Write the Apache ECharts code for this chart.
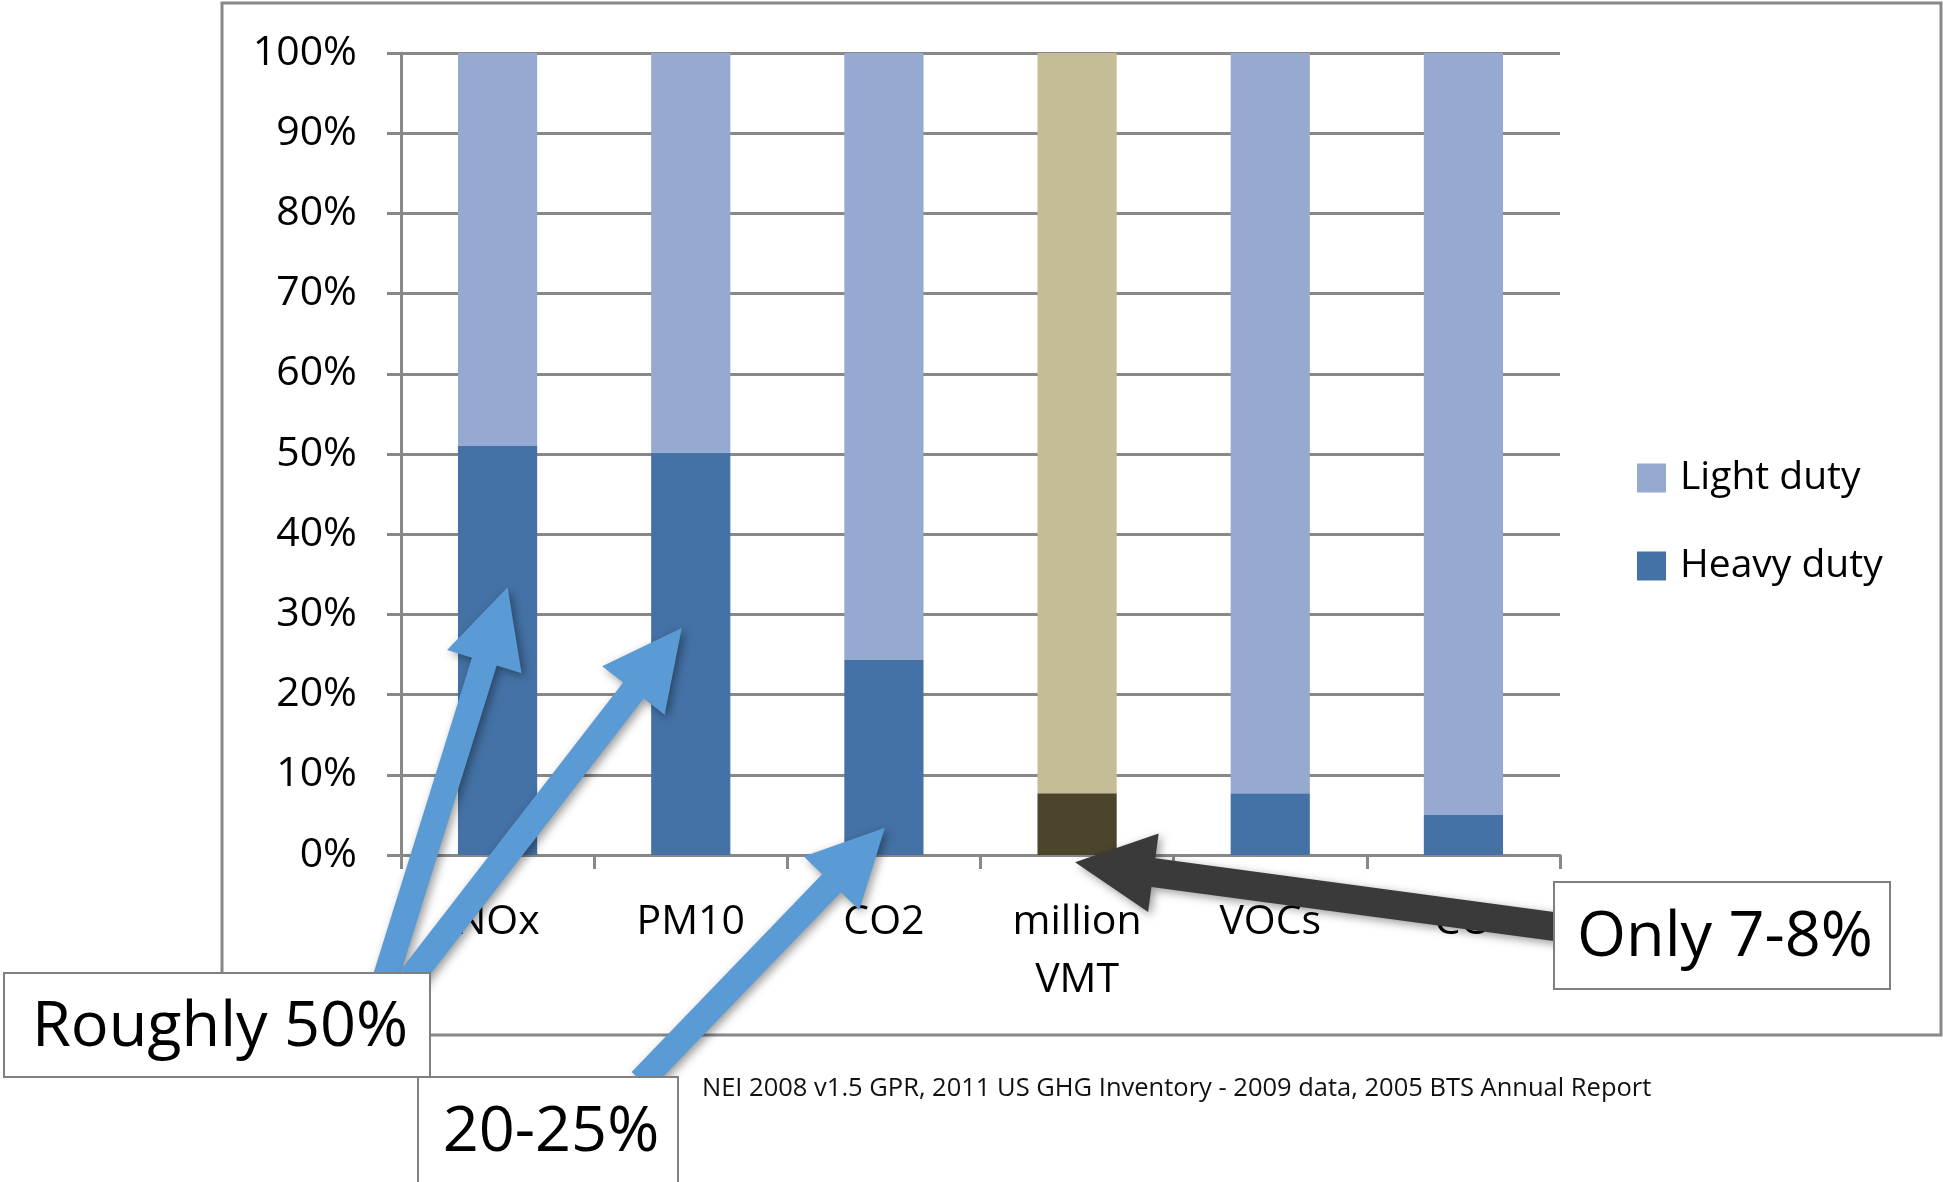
<!DOCTYPE html>
<html>
<head>
<meta charset="utf-8">
<title>Light vs heavy duty share</title>
<script src="https://cdn.jsdelivr.net/npm/echarts@6/dist/echarts.min.js"></script>
<style>
html, body { margin: 0; padding: 0; background: #fff; }
#chart { width: 1943px; height: 1182px; }
</style>
</head>
<body>
<div id="chart"></div>
<script>
// share of each pollutant / of VMT, in percent
const categories = ['NOx', 'PM10', 'CO2', 'million VMT', 'VOCs', 'CO'];
const heavyDuty = [51.0, 50.2, 24.3, 7.7, 7.7, 5.0];
const lightDuty = [49.0, 49.8, 75.7, 92.3, 92.3, 95.0];
const seriesNames = ['Light duty', 'Heavy duty'];

const sourceNote = 'NEI 2008 v1.5 GPR, 2011 US GHG Inventory - 2009 data, 2005 BTS Annual Report';

// callout boxes (pixel boxes) and the arrows pointing into the bars
const callouts = [
  { text: 'Roughly 50%', box: [4, 973, 426, 104] },
  { text: '20-25%', box: [418, 1077, 260, 120], textY: 1130 },
  { text: 'Only 7-8%', box: [1554, 882, 336, 107] }
];
const arrows = [
  { cat: 0, value: 33.4, dx: 10, tail: [385, 980], color: '#5B9BD5', shaft: 26, head: 78 },
  { cat: 1, value: 28.3, dx: -9, tail: [411, 978], color: '#5B9BD5', shaft: 26, head: 79 },
  { cat: 2, value: 3.4, dx: 1, tail: [641, 1081], color: '#5B9BD5', shaft: 26, head: 77 },
  { cat: 3, value: -0.9, dx: -2, tail: [1565, 928], color: '#3A3A3A', shaft: 29, head: 79 }
];

const FONT = '"Open Sans", "Noto Sans", sans-serif';
const GRAY = '#888888';

var chart = echarts.init(document.getElementById('chart'));

var option = {
  animation: false,
  backgroundColor: '#fff',
  grid: { left: 401, top: 53, width: 1159, height: 802, containLabel: false },
  legend: {
    data: seriesNames,
    orient: 'vertical',
    left: 1637,
    top: 458,
    itemWidth: 29,
    itemHeight: 29,
    itemGap: 48,
    icon: 'rect',
    padding: 0,
    textStyle: { color: '#000', fontSize: 39, fontFamily: FONT, lineHeight: 40, padding: [0, 0, 0, 9] }
  },
  xAxis: {
    type: 'category',
    data: categories,
    axisLine: { show: true, lineStyle: { color: GRAY, width: 3 } },
    axisTick: { show: true, length: 14, interval: 0, lineStyle: { color: GRAY, width: 3 } },
    axisLabel: {
      interval: 0,
      margin: 38,
      color: '#000',
      fontSize: 41,
      fontFamily: FONT,
      lineHeight: 58,
      formatter: function (v) { return v.replace(' ', '\n'); }
    }
  },
  yAxis: {
    type: 'value',
    min: 0,
    max: 100,
    interval: 10,
    axisLine: { show: true, lineStyle: { color: GRAY, width: 3 } },
    axisTick: { show: true, length: 14, lineStyle: { color: GRAY, width: 3 } },
    splitLine: { show: true, lineStyle: { color: GRAY, width: 3 } },
    axisLabel: { formatter: '{value}%', margin: 44, color: '#000', fontSize: 41, fontFamily: FONT, padding: [8, 0, 0, 0] }
  },
  series: [
    {
      name: 'Heavy duty',
      type: 'bar',
      stack: 'share',
      barWidth: '41%',
      itemStyle: { color: '#4472A6' },
      data: heavyDuty.map(function (v, i) {
        // the VMT bar is drawn in olive tones
        return i === 3 ? { value: v, itemStyle: { color: '#4A452B' } } : v;
      })
    },
    {
      name: 'Light duty',
      type: 'bar',
      stack: 'share',
      barWidth: '41%',
      itemStyle: { color: '#95A9D1' },
      data: lightDuty.map(function (v, i) {
        return i === 3 ? { value: v, itemStyle: { color: '#C4BD97' } } : v;
      })
    }
  ]
};
chart.setOption(option);

function arrowPoints(t, p, w, hw, hl) {
  var dx = p[0] - t[0], dy = p[1] - t[1];
  var len = Math.sqrt(dx * dx + dy * dy);
  var ux = dx / len, uy = dy / len;
  var nx = -uy, ny = ux;
  var bx = p[0] - ux * hl, by = p[1] - uy * hl;
  return [
    [t[0] + nx * w / 2, t[1] + ny * w / 2],
    [bx + nx * w / 2, by + ny * w / 2],
    [bx + nx * hw / 2, by + ny * hw / 2],
    p,
    [bx - nx * hw / 2, by - ny * hw / 2],
    [bx - nx * w / 2, by - ny * w / 2],
    [t[0] - nx * w / 2, t[1] - ny * w / 2]
  ];
}

var graphics = [];

// outer chart frame
graphics.push({
  type: 'rect', silent: true, z: 1,
  shape: { x: 222, y: 3, width: 1719, height: 1032 },
  style: { fill: 'none', stroke: GRAY, lineWidth: 3 }
});

// source note
graphics.push({
  type: 'text', silent: true, z: 5,
  x: 702, y: 1089,
  style: { text: sourceNote, font: '25.5px ' + FONT, fill: '#111', align: 'left', verticalAlign: 'middle', textAlign: 'left', textVerticalAlign: 'middle' }
});

arrows.forEach(function (a) {
  var c = chart.convertToPixel({ xAxisIndex: 0, yAxisIndex: 0 }, [a.cat, a.value]);
  var tip = [c[0] + a.dx, c[1]];
  graphics.push({
    type: 'polygon', silent: true, z: 50,
    shape: { points: arrowPoints(a.tail, tip, a.shaft, a.head, a.head) },
    style: { fill: a.color, shadowBlur: 10, shadowColor: 'rgba(0,0,0,0.4)', shadowOffsetX: 3, shadowOffsetY: 3 }
  });
});

callouts.forEach(function (b) {
  var x = b.box[0], y = b.box[1], w = b.box[2], h = b.box[3];
  graphics.push({
    type: 'rect', silent: true, z: 60,
    shape: { x: x, y: y, width: w, height: h },
    style: { fill: '#fff', stroke: '#7F7F7F', lineWidth: 2 }
  });
  graphics.push({
    type: 'text', silent: true, z: 61,
    x: x + w / 2 + 3, y: (b.textY || (y + h / 2)) + 3,
    style: { text: b.text, font: '63px ' + FONT, fill: '#000', align: 'center', verticalAlign: 'middle', textAlign: 'center', textVerticalAlign: 'middle' }
  });
});

chart.setOption({ graphic: graphics });
window.onresize = chart.resize;
</script>
</body>
</html>
